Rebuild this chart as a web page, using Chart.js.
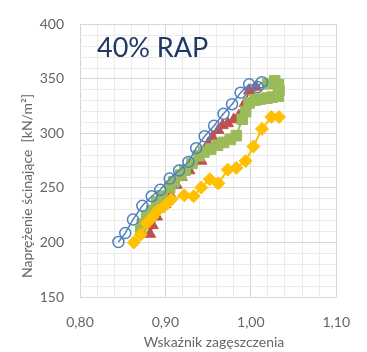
<!DOCTYPE html>
<html>
<head>
<meta charset="utf-8">
<script src="https://cdn.jsdelivr.net/npm/chart.js@4.4.1/dist/chart.umd.min.js"></script>
<style>
  html, body { margin: 0; padding: 0; background: #ffffff; }
  #wrap { width: 367px; height: 352px; position: relative; }
</style>
</head>
<body>
<div id="wrap"><canvas id="c"></canvas></div>
<script>
// Shear stress vs. compaction index, 40% RAP mixtures
const chartLabel = '40% RAP';
const xTitle = 'Wskaźnik zagęszczenia';
const yTitle = 'Naprężenie ścinające  [kN/m²]';

const xTicks = [0.80, 0.90, 1.00, 1.10];
const yTicks = [150, 200, 250, 300, 350, 400];

const blueX = [0.845,0.853,0.862,0.873,0.884,0.894,0.905,0.916,0.927,0.936,0.946,0.957,0.968,0.978,0.988,0.998,1.008,1.013];
const blueY = [200.4,208.6,221.0,233.6,242.4,248.3,258.6,266.0,273.9,286.5,297.4,307.1,318.0,326.8,337.4,345.0,342.5,347.0];

const redX = [0.882,0.885,0.890,0.900,0.906,0.913,0.919,0.928,0.942,0.950,0.955,0.962,0.967,0.973,0.980,0.986,0.993,0.998,1.006];
const redY = [207.8,215.7,223.6,235.0,244.0,252.7,259.8,266.0,274.8,290.7,296.8,303.0,307.4,309.2,312.7,316.2,327.7,339.2,342.7];

const greenX = [0.871,0.873,0.878,0.884,0.890,0.896,0.905,0.910,0.918,0.923,0.931,0.939,0.945,0.953,0.961,0.968,0.976,0.983,0.990,0.994,0.998,1.005,1.011,1.019,1.025,1.032,1.033,1.032,1.028,1.020];
const greenY = [210.8,216.9,224.0,229.3,237.2,242.5,250.4,255.7,261.9,266.3,272.5,279.5,283.0,285.7,289.2,291.8,294.5,298.0,313.0,320.0,328.0,330.6,331.5,332.4,333.3,334.1,339.4,344.7,348.2,345.6];

const yellowX = [0.863,0.871,0.878,0.885,0.891,0.898,0.902,0.907,0.922,0.933,0.942,0.952,0.962,0.973,0.983,0.994,1.003,1.013,1.024,1.033];
const yellowY = [200.0,207.2,217.5,223.4,229.2,233.0,235.7,239.5,243.3,242.4,250.4,258.0,254.2,266.8,268.3,274.8,288.0,304.1,315.1,315.1];

const pts = (xs, ys) => xs.map((x, i) => ({ x: x, y: ys[i] }));

const FONT = 'Lato, "Open Sans", sans-serif';
const GREY = '#666666';

const isMajorX = v => Math.round(v * 100) % 10 === 0;
const isMajorY = v => Math.round(v) % 50 === 0;

// Text drawn directly onto the canvas: panel label and axis titles
const textPlugin = {
  id: 'texts',
  afterDraw(chart) {
    const ctx = chart.ctx;
    ctx.save();
    ctx.fillStyle = '#1f3864';
    ctx.font = '27px ' + FONT;
    ctx.textAlign = 'left';
    ctx.textBaseline = 'alphabetic';
    ctx.fillText(chartLabel, 97, 57);

    ctx.fillStyle = GREY;
    ctx.font = '14px ' + FONT;
    ctx.textAlign = 'center';
    ctx.textBaseline = 'middle';
    ctx.fillText(xTitle, 214, 342);

    ctx.translate(27, 186);
    ctx.rotate(-Math.PI / 2);
    ctx.fillText(yTitle, 0, 0);
    ctx.restore();
  }
};

new Chart(document.getElementById('c'), {
  type: 'scatter',
  data: {
    datasets: [
      {
        data: pts(blueX, blueY), order: 0, showLine: true,
        borderColor: '#4f81bd', borderWidth: 1.5,
        pointStyle: 'circle', pointRadius: 5.5,
        pointBackgroundColor: 'rgba(255,255,255,0)',
        pointBorderColor: '#4f81bd', pointBorderWidth: 1.5
      },
      {
        data: pts(yellowX, yellowY), order: 1, showLine: true,
        borderColor: '#ffc000', borderWidth: 2,
        pointStyle: 'rectRot', pointRadius: 6.5,
        pointBackgroundColor: '#ffc000', pointBorderColor: '#ffc000', pointBorderWidth: 1
      },
      {
        data: pts(greenX, greenY), order: 2, showLine: true,
        borderColor: '#9bbb59', borderWidth: 2,
        pointStyle: 'rect', pointRadius: 7.5,
        pointBackgroundColor: '#9bbb59', pointBorderColor: '#9bbb59', pointBorderWidth: 1
      },
      {
        data: pts(redX, redY), order: 3, showLine: true,
        borderColor: '#c0504d', borderWidth: 2,
        pointStyle: 'triangle', pointRadius: 6.5,
        pointBackgroundColor: '#c0504d', pointBorderColor: '#c0504d', pointBorderWidth: 1
      }
    ]
  },
  options: {
    responsive: true,
    maintainAspectRatio: false,
    animation: false,
    layout: { padding: { left: 0, top: 13, right: 14, bottom: 0 } },
    plugins: { legend: { display: false }, tooltip: { enabled: false } },
    scales: {
      x: {
        type: 'linear',
        min: xTicks[0], max: xTicks[xTicks.length - 1],
        afterFit(s) { s.height = 55; },
        border: { display: false },
        grid: {
          drawTicks: false,
          color: c => isMajorX(c.tick.value) ? '#d6d6d6' : '#ebebeb',
          lineWidth: 1
        },
        ticks: {
          stepSize: 0.02,
          autoSkip: false,
          maxRotation: 0,
          padding: 17,
          color: GREY,
          font: { family: FONT, size: 14 },
          callback: v => isMajorX(v) ? v.toFixed(2).replace('.', ',') : ''
        }
      },
      y: {
        type: 'linear',
        min: yTicks[0], max: yTicks[yTicks.length - 1],
        afterFit(s) { s.width = 80; },
        border: { display: false },
        grid: {
          drawTicks: false,
          color: c => isMajorY(c.tick.value) ? '#d6d6d6' : '#ebebeb',
          lineWidth: 1
        },
        ticks: {
          stepSize: 10,
          autoSkip: false,
          padding: 16,
          color: GREY,
          font: { family: FONT, size: 14 },
          callback: v => isMajorY(v) ? String(v) : ''
        }
      }
    }
  },
  plugins: [textPlugin]
});
</script>
</body>
</html>
